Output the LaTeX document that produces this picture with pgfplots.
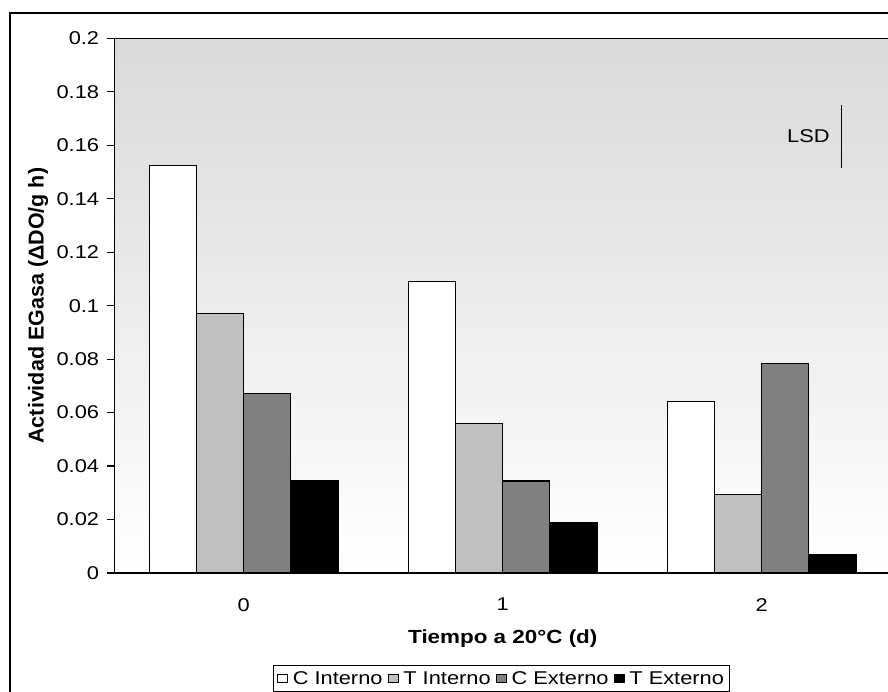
\documentclass[border=0pt]{standalone}
\usepackage{fontspec}
\setmainfont{Liberation Sans}[FakeStretch=1.18]
\newfontfamily\ylabfont{Liberation Sans}
\usepackage{pgfplots}
\pgfplotsset{compat=1.18}
\definecolor{bgtop}{RGB}{217,217,217}
\definecolor{tint}{RGB}{192,192,192}
\definecolor{cext}{RGB}{128,128,128}
\begin{document}
\begin{tikzpicture}[x=1pt,y=1pt]
\useasboundingbox (0,0) rectangle (888,691);
\clip (0,0) rectangle (888,691);
\draw[line width=1.5pt] (10,678) rectangle (950,-50);
\begin{axis}[
  at={(114.3pt,118pt)}, anchor=south west,
  scale only axis, width=777pt, height=534.7pt,
  xmin=-0.5, xmax=2.5, ymin=0, ymax=0.2,
  axis background/.style={top color=bgtop, bottom color=white},
  axis line style={line width=1.5pt},
  xtick={0,1,2}, xticklabels={0,1,2},
  x tick style={draw=none},
  ytick={0,0.02,0.04,0.06,0.08,0.1,0.12,0.14,0.16,0.18,0.2},
  yticklabels={0,0.02,0.04,0.06,0.08,0.1,0.12,0.14,0.16,0.18,0.2},
  scaled y ticks=false,
  ytick pos=left, tick align=outside, major tick length=7pt,
  y tick style={line width=1.2pt, black},
  tick label style={font=\fontsize{18.5}{21}\selectfont},
  yticklabel style={inner sep=0pt, xshift=-8pt},
  xticklabel style={inner sep=0pt, yshift=-18pt},
  every axis y label/.style={at={(axis description cs:-0.098,0.5)}, rotate=90, anchor=center},
  every axis x label/.style={at={(axis description cs:0.5,-0.1235)}, anchor=center},
  ylabel={\ylabfont\bfseries\fontsize{21.5}{24}\selectfont Actividad EGasa (ΔDO/g h)},
  xlabel={\bfseries\fontsize{19}{22}\selectfont Tiempo a 20°C (d)},
  legend style={at={(0.4983,-0.1721)}, anchor=north, legend columns=4,
    draw=black, line width=1pt, fill=white, inner xsep=3pt, inner ysep=4pt,
    font=\fontsize{18.5}{22}\selectfont,
    /tikz/every odd column/.append style={column sep=3pt},
    /tikz/every even column/.append style={column sep=3pt}},
  legend image code/.code={\draw[#1, line width=0.8pt] (0pt,-4pt) rectangle (10pt,4pt);},
]
\addplot[ybar, bar width=0.1818, bar shift=-0.2727, fill=white, draw=black, line width=1.1pt]
  coordinates {(0,0.1525) (1,0.1090) (2,0.0643)};
\addplot[ybar, bar width=0.1818, bar shift=-0.0909, fill=tint, draw=black, line width=1.1pt]
  coordinates {(0,0.0971) (1,0.0560) (2,0.0292)};
\addplot[ybar, bar width=0.1818, bar shift=0.0909, fill=cext, draw=black, line width=1.1pt]
  coordinates {(0,0.0673) (1,0.0344) (2,0.0785)};
\addplot[ybar, bar width=0.1818, bar shift=0.2727, fill=black, draw=black, line width=1.1pt]
  coordinates {(0,0.0344) (1,0.0189) (2,0.0068)};
\legend{C Interno, T Interno, C Externo, T Externo}
\addplot[black, line width=1.2pt, no markers, forget plot]
  coordinates {(2.309,0.1515) (2.309,0.1751)};
\node[font=\fontsize{18.5}{21}\selectfont] at (axis cs:2.18,0.1633) {LSD};
\end{axis}
\end{tikzpicture}
\end{document}
